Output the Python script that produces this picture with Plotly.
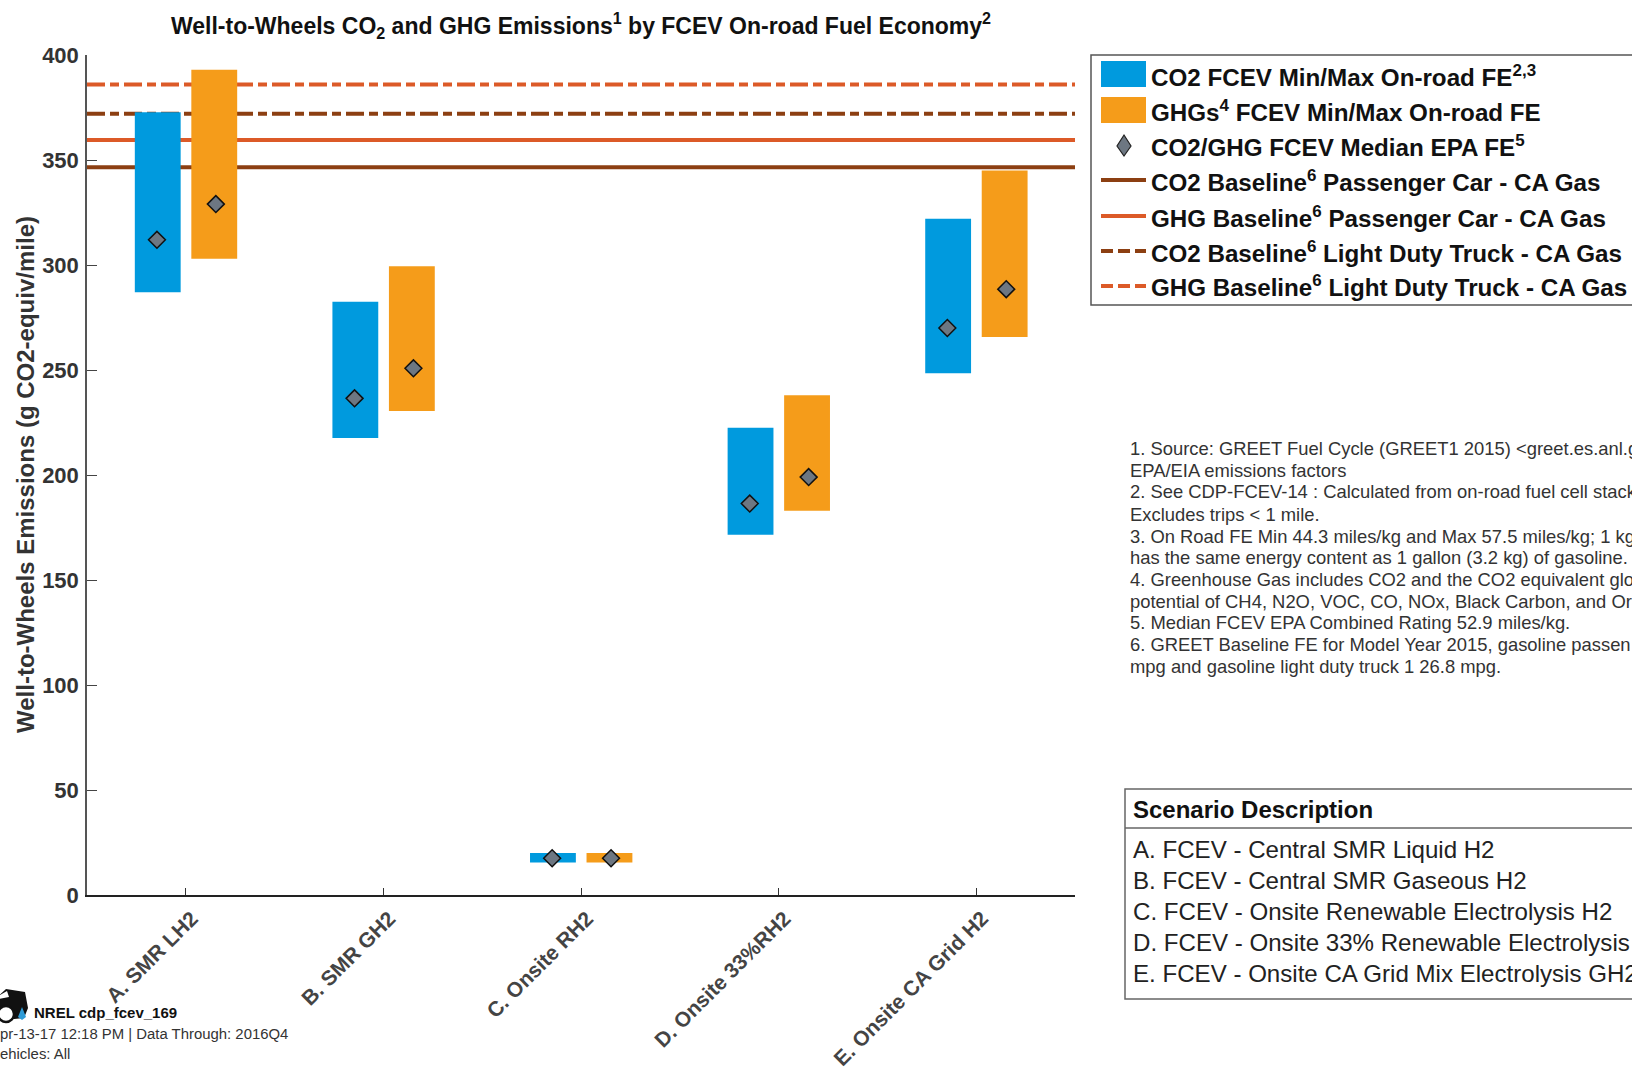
import plotly.graph_objects as go

categories = ["A. SMR LH2", "B. SMR GH2", "C. Onsite RH2", "D. Onsite 33%RH2", "E. Onsite CA Grid H2"]
co2_min = [287, 217.6, 15.5, 171.5, 248.5]
co2_max = [372.7, 282.5, 20, 222.5, 322]
co2_median = [312, 236.5, 17.5, 186.4, 270]
ghg_min = [303, 230.5, 15.5, 183, 265.7]
ghg_max = [393, 299.4, 20, 238, 345]
ghg_median = [329, 250.8, 17.5, 199, 288.5]
base_co2_car = 346.5
base_ghg_car = 359.5
base_co2_truck = 372
base_ghg_truck = 386
y_ticks = [0, 50, 100, 150, 200, 250, 300, 350, 400]

legend_labels = [
    "CO2 FCEV Min/Max On-road FE<sup>2,3</sup>",
    "GHGs<sup>4</sup> FCEV Min/Max On-road FE",
    "CO2/GHG FCEV Median EPA FE<sup>5</sup>",
    "CO2 Baseline<sup>6</sup> Passenger Car - CA Gas",
    "GHG Baseline<sup>6</sup> Passenger Car - CA Gas",
    "CO2 Baseline<sup>6</sup> Light Duty Truck - CA Gas",
    "GHG Baseline<sup>6</sup> Light Duty Truck - CA Gas",
]
footnotes = [
    "1. Source: GREET Fuel Cycle (GREET1 2015) &lt;greet.es.anl.g",
    "EPA/EIA emissions factors",
    "2. See CDP-FCEV-14 : Calculated from on-road fuel cell stack",
    "Excludes trips &lt; 1 mile.",
    "3. On Road FE Min 44.3 miles/kg and Max 57.5 miles/kg; 1 kg",
    "has the same energy content as 1 gallon (3.2 kg) of gasoline.",
    "4. Greenhouse Gas includes CO2 and the CO2 equivalent glo",
    "potential of CH4, N2O, VOC, CO, NOx, Black Carbon, and Or",
    "5. Median FCEV EPA Combined Rating 52.9 miles/kg.",
    "6. GREET Baseline FE for Model Year 2015, gasoline passen",
    "mpg and gasoline light duty truck 1 26.8 mpg.",
]
scenarios = [
    "A. FCEV - Central SMR Liquid H2",
    "B. FCEV - Central SMR Gaseous H2",
    "C. FCEV - Onsite Renewable Electrolysis H2",
    "D. FCEV - Onsite 33% Renewable Electrolysis",
    "E. FCEV - Onsite CA Grid Mix Electrolysis GH2",
]

W, H = 1632, 1071
L, R, T, B = 87, 1075, 55, 895
FONT = "Liberation Sans"
BLUE, ORANGE = "#009ADE", "#F59C1A"
BROWN, RED = "#8C3F12", "#DC5A28"
GREY = "#6D7782"
TRUCK_DASH = "18px,5px,9px,5px"


def px(x):
    return (x - L) / (R - L)


def py(y):
    return (B - y) / (B - T)


fig = go.Figure()
xs = list(range(len(categories)))
xspan = [-0.5, 4.5]

for val, col, dash, name in [
    (base_co2_car, BROWN, "solid", "CO2 car"),
    (base_ghg_car, RED, "solid", "GHG car"),
    (base_co2_truck, BROWN, TRUCK_DASH, "CO2 truck"),
    (base_ghg_truck, RED, TRUCK_DASH, "GHG truck"),
]:
    fig.add_trace(go.Scatter(x=xspan, y=[val, val], mode="lines", name=name,
                             line=dict(color=col, width=4, dash=dash)))

fig.add_trace(go.Bar(x=xs, base=co2_min, y=[a - b for a, b in zip(co2_max, co2_min)],
                     width=0.232, offset=-0.258, marker=dict(color=BLUE, line_width=0),
                     xaxis="x2", yaxis="y2", name="CO2 range"))
fig.add_trace(go.Bar(x=xs, base=ghg_min, y=[a - b for a, b in zip(ghg_max, ghg_min)],
                     width=0.232, offset=0.028, marker=dict(color=ORANGE, line_width=0),
                     xaxis="x2", yaxis="y2", name="GHG range"))
marker = dict(symbol="diamond", size=13, color=GREY, line=dict(color="#111111", width=1.5))
fig.add_trace(go.Scatter(x=[i - 0.146 for i in xs], y=co2_median, mode="markers", marker=marker,
                         xaxis="x2", yaxis="y2", name="CO2 median"))
fig.add_trace(go.Scatter(x=[i + 0.152 for i in xs], y=ghg_median, mode="markers", marker=marker,
                         xaxis="x2", yaxis="y2", name="GHG median"))

shapes = []
annotations = []


def text(x, y, s, size, bold=False, color="#222222"):
    annotations.append(dict(xref="paper", yref="paper", x=px(x), y=py(y), text=f"<b>{s}</b>" if bold else s,
                            showarrow=False, xanchor="left", yanchor="middle", align="left",
                            font=dict(family=FONT, size=size, color=color),
                            borderpad=0, borderwidth=0))


def rect(x0, y0, x1, y1, fill="rgba(0,0,0,0)", line=None, width=0):
    shapes.append(dict(type="rect", xref="paper", yref="paper", x0=px(x0), x1=px(x1), y0=py(y1), y1=py(y0),
                       fillcolor=fill, line=dict(color=line or fill, width=width)))


def hline(x0, x1, y, color, width, dash="solid"):
    shapes.append(dict(type="line", xref="paper", yref="paper", x0=px(x0), x1=px(x1), y0=py(y), y1=py(y),
                       line=dict(color=color, width=width, dash=dash)))


def path(d_points, fill, line=None, width=0):
    d = "M" + " L".join(f"{px(a)},{py(b)}" for a, b in d_points) + " Z"
    shapes.append(dict(type="path", xref="paper", yref="paper", path=d, fillcolor=fill,
                       line=dict(color=line or fill, width=width)))


def circle(cx, cy, r, fill, line=None, width=0):
    shapes.append(dict(type="circle", xref="paper", yref="paper", x0=px(cx - r), x1=px(cx + r),
                       y0=py(cy + r), y1=py(cy - r), fillcolor=fill, line=dict(color=line or fill, width=width)))


# legend box
rect(1091, 55, 1700, 305, line="#555555", width=1.5)
rect(1101, 61, 1146, 87, fill=BLUE)
rect(1101, 97, 1146, 123, fill=ORANGE)
path([(1124, 135), (1131, 146), (1124, 156), (1117, 146)], GREY, "#222222", 1.2)
hline(1101, 1146, 180, BROWN, 4)
hline(1101, 1146, 216, RED, 4)
hline(1101, 1146, 251, BROWN, 4, "12px,5px")
hline(1101, 1146, 286, RED, 4, "12px,5px")
for yy, s in zip([76, 111, 146, 181, 217, 252, 286], legend_labels):
    text(1151, yy, s, 24.2, bold=True, color="#111111")

# footnotes
for yy, s in zip([448, 470, 492, 514, 536, 557, 579, 601, 622, 644, 666], footnotes):
    text(1130, yy, s, 18.4, color="#333333")

# scenario table
rect(1125, 789, 1700, 999, line="#666666", width=1.5)
hline(1125, 1700, 828, "#666666", 1.5)
text(1133, 809, "Scenario Description", 24, bold=True, color="#111111")
for yy, s in zip([849, 880, 911, 942, 973], scenarios):
    text(1133, yy, s, 24.1, color="#222222")

# NREL logo (clipped by the page edge)
path([(-4, 998), (6, 989), (25, 992), (28, 1008), (24, 1018), (-4, 1021)], "#111111")
path([(-2, 996), (7, 991), (9, 997), (-2, 999)], "#FFFFFF")
circle(6, 1014, 8, "#FFFFFF", "#111111", 2.5)
path([(22, 1007), (26, 1017), (22, 1020), (18, 1017)], "#2E9BD6")

text(34, 1012, "NREL cdp_fcev_169", 15, bold=True, color="#111111")
text(0, 1034, "pr-13-17 12:18 PM | Data Through: 2016Q4", 14.9, color="#333333")
text(0, 1054, "ehicles: All", 14.9, color="#333333")

# y axis title placed at its exact position
annotations.append(dict(xref="paper", yref="paper", x=px(25), y=py(475), text="<b>Well-to-Wheels Emissions (g CO2-equiv/mile)</b>",
                        showarrow=False, textangle=-90, xanchor="center", yanchor="middle",
                        font=dict(family=FONT, size=24, color="#333333")))

fig.update_layout(
    width=W, height=H,
    margin=dict(l=L, r=W - R, t=T, b=H - B, pad=0, autoexpand=False),
    paper_bgcolor="white", plot_bgcolor="white",
    showlegend=False, barmode="overlay",
    font=dict(family=FONT),
    title=dict(text="<b>Well-to-Wheels CO<sub>2</sub> and GHG Emissions<sup>1</sup> by FCEV On-road Fuel Economy<sup>2</sup></b>",
               x=0.5, xref="paper", xanchor="center", y=1 - 26 / H, yref="container", yanchor="middle",
               font=dict(family=FONT, size=23, color="#111111")),
    xaxis=dict(range=xspan, tickmode="array", tickvals=xs, ticktext=[f"<b>{c}</b>" for c in categories],
               tickangle=-45, ticks="inside", ticklen=7, tickwidth=1, tickcolor="#333333",
               ticklabelshift=6, ticklabelstandoff=1,
               showgrid=False, zeroline=False, showline=True, linecolor="#222222", linewidth=2,
               tickfont=dict(family=FONT, size=21, color="#444444"), automargin=False),
    yaxis=dict(range=[0, 400], tickmode="array", tickvals=y_ticks, ticktext=[f"<b>{t}</b>" for t in y_ticks],
               ticks="inside", ticklen=10, tickwidth=1, ticklabelstandoff=2,
               tickcolor="#444444", showgrid=False, zeroline=False, showline=True, linecolor="#555555", linewidth=1.5,
               tickfont=dict(family=FONT, size=22, color="#333333"), automargin=False),
    xaxis2=dict(range=xspan, overlaying="x", visible=False, showgrid=False, zeroline=False),
    yaxis2=dict(range=[0, 400], overlaying="y", visible=False, showgrid=False, zeroline=False),
    shapes=shapes, annotations=annotations,
)

fig.write_html("out.html", config=dict(displayModeBar=False),
               post_script="document.body.style.margin='0';document.body.style.overflow='hidden';")
